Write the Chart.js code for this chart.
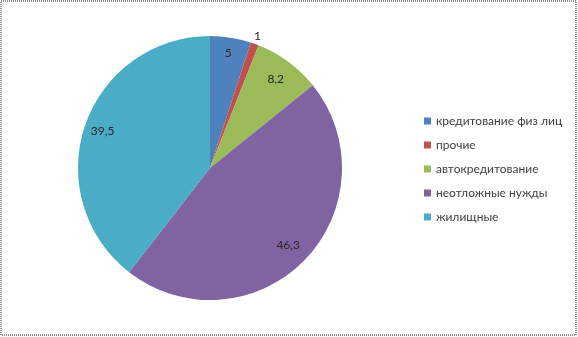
<!DOCTYPE html>
<html>
<head>
<meta charset="utf-8">
<script src="https://cdn.jsdelivr.net/npm/chart.js@4"></script>
<style>
  html, body { margin: 0; padding: 0; background: #fff; }
  #wrap { width: 578px; height: 337px; position: relative; }
</style>
</head>
<body>
<div id="wrap"><canvas id="chart" width="578" height="337"></canvas></div>
<script>
// данные
const categorias = ["кредитование физ лиц", "прочие", "автокредитование", "неотложные нужды", "жилищные"];
const valores = [5, 1, 8.2, 46.3, 39.5];
const colores = ["#4F81BD", "#C0504D", "#9BBB59", "#8064A2", "#4BACC6"];
// radio relativo de cada etiqueta
const radioEtiqueta = [0.88, 1.06, 0.84, 0.83, 0.86];

const fuente = "Lato, 'Open Sans', sans-serif";

// etiquetas de valores
const pluginEtiquetas = {
  id: "etiquetas",
  afterDatasetsDraw(chart) {
    const ctx = chart.ctx;
    const meta = chart.getDatasetMeta(0);
    ctx.save();
    ctx.font = "12px " + fuente;
    ctx.fillStyle = "#262626";
    ctx.textAlign = "center";
    ctx.textBaseline = "middle";
    meta.data.forEach((arc, i) => {
      const p = arc.getProps(["x", "y", "startAngle", "endAngle", "outerRadius"], true);
      const ang = (p.startAngle + p.endAngle) / 2;
      const r = p.outerRadius * radioEtiqueta[i];
      const txt = String(valores[i]).replace(".", ",");
      ctx.fillText(txt, p.x + Math.cos(ang) * r, p.y + Math.sin(ang) * r);
    });
    ctx.restore();
  },
};

// leyenda y marco
const pluginLeyenda = {
  id: "leyenda",
  afterDraw(chart) {
    const ctx = chart.ctx;
    ctx.save();
    ctx.font = "12px " + fuente;
    ctx.textBaseline = "middle";
    categorias.forEach((c, i) => {
      const y = 121 + i * 24;
      ctx.fillStyle = colores[i];
      ctx.fillRect(424, y - 3.5, 7, 7);
      ctx.fillStyle = "#404040";
      ctx.fillText(c, 436, y);
    });
    // marco punteado
    ctx.strokeStyle = "#8c8c8c";
    ctx.lineWidth = 2;
    ctx.setLineDash([1, 1]);
    ctx.strokeRect(1, 1, 575, 334);
    ctx.restore();
  },
};

new Chart(document.getElementById("chart"), {
  type: "pie",
  data: {
    labels: categorias,
    datasets: [
      {
        data: valores,
        backgroundColor: colores,
        borderWidth: 0,
      },
    ],
  },
  options: {
    responsive: false,
    animation: false,
    layout: { padding: { top: 36, bottom: 37, left: 78, right: 236 } },
    plugins: { legend: { display: false }, tooltip: { enabled: false } },
  },
  plugins: [pluginEtiquetas, pluginLeyenda],
});
</script>
</body>
</html>
